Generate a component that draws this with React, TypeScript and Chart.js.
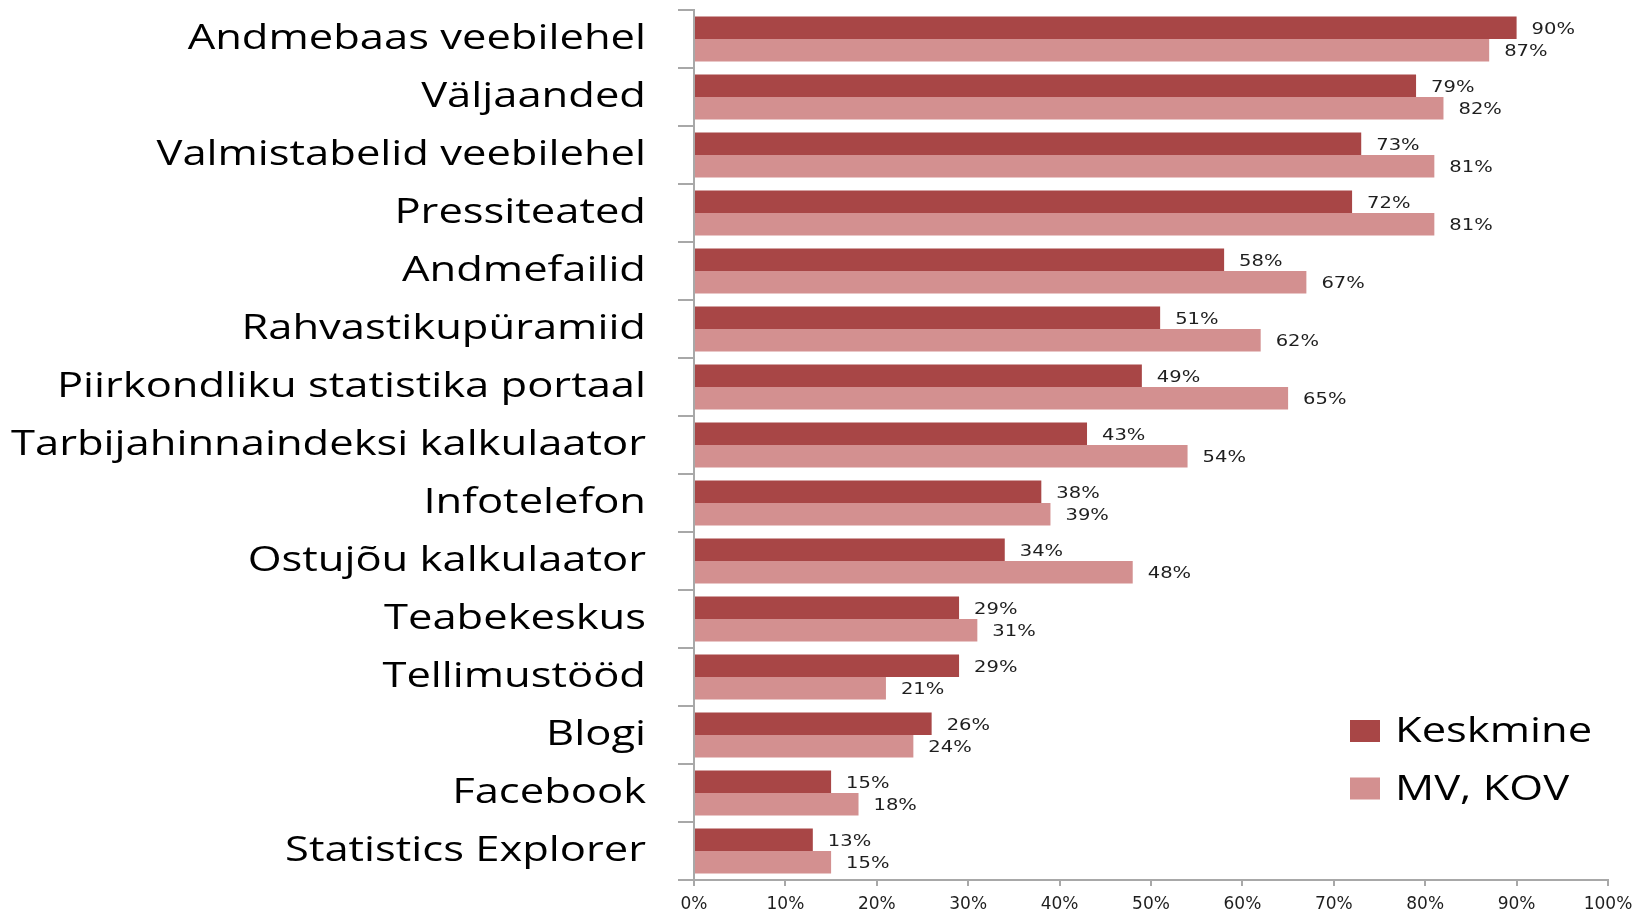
import React, { useEffect, useRef } from "react";
import { Chart, registerables } from "chart.js";

Chart.register(...registerables);

const categories = [
  "Andmebaas veebilehel",
  "Väljaanded",
  "Valmistabelid veebilehel",
  "Pressiteated",
  "Andmefailid",
  "Rahvastikupüramiid",
  "Piirkondliku statistika portaal",
  "Tarbijahinnaindeksi kalkulaator",
  "Infotelefon",
  "Ostujõu kalkulaator",
  "Teabekeskus",
  "Tellimustööd",
  "Blogi",
  "Facebook",
  "Statistics Explorer",
];

const keskmine = [90, 79, 73, 72, 58, 51, 49, 43, 38, 34, 29, 29, 26, 15, 13];
const mvKov = [87, 82, 81, 81, 67, 62, 65, 54, 39, 48, 31, 21, 24, 18, 15];

const seriesNames = ["Keskmine", "MV, KOV"];
const seriesColors = ["#A84646", "#D39090"];

const xTicks = [0, 10, 20, 30, 40, 50, 60, 70, 80, 90, 100];

const AXIS_COLOR = "#A8A8A8";
const LABEL_FONT = '34px "Open Sans"';
const STRETCH = 1.28;
const VALUE_FONT = '16px "DejaVu Sans"';
const VALUE_STRETCH = 1.22;

const textPlugin = {
  id: "customText",
  afterDatasetsDraw(chart: any) {
    const ctx = chart.ctx;
    chart.data.datasets.forEach((ds: any, di: number) => {
      const meta = chart.getDatasetMeta(di);
      meta.data.forEach((bar: any, i: number) => {
        ctx.save();
        ctx.font = VALUE_FONT;
        ctx.fillStyle = "#1e1e1e";
        ctx.textAlign = "left";
        ctx.textBaseline = "middle";
        ctx.translate(bar.x + 15, bar.y + 2);
        ctx.scale(VALUE_STRETCH, 1);
        ctx.fillText(ds.data[i] + "%", 0, 0);
        ctx.restore();
      });
    });
  },
  afterDraw(chart: any) {
    const ctx = chart.ctx;
    const yScale = chart.scales.y;
    const labels = chart.data.labels as string[];
    const right = yScale.right - 48;
    labels.forEach((lab, i) => {
      const py = yScale.getPixelForValue(i);
      ctx.save();
      ctx.font = LABEL_FONT;
      ctx.fillStyle = "#000";
      ctx.textAlign = "right";
      ctx.textBaseline = "alphabetic";
      ctx.translate(right, py + 10);
      ctx.scale(STRETCH, 1);
      ctx.fillText(lab, 0, 0);
      ctx.restore();
    });
    chart.data.datasets.forEach((ds: any, di: number) => {
      const bx = 1350;
      const by = 720 + di * 57.5;
      ctx.save();
      ctx.fillStyle = ds.backgroundColor;
      ctx.fillRect(bx, by, 30, 22);
      ctx.font = LABEL_FONT;
      ctx.fillStyle = "#000";
      ctx.textAlign = "left";
      ctx.textBaseline = "alphabetic";
      ctx.translate(bx + 45, by + 22);
      ctx.scale(STRETCH, 1);
      ctx.fillText(ds.label, 0, 0);
      ctx.restore();
    });
  },
};

export default function App() {
  const ref = useRef<HTMLCanvasElement | null>(null);

  useEffect(() => {
    if (!ref.current) return;
    const chart = new Chart(ref.current, {
      type: "bar",
      data: {
        labels: categories,
        datasets: [
          {
            label: seriesNames[0],
            data: keskmine,
            backgroundColor: seriesColors[0],
            borderWidth: 0,
            categoryPercentage: 0.78,
            barPercentage: 1,
          },
          {
            label: seriesNames[1],
            data: mvKov,
            backgroundColor: seriesColors[1],
            borderWidth: 0,
            categoryPercentage: 0.78,
            barPercentage: 1,
          },
        ],
      },
      options: {
        indexAxis: "y",
        animation: false,
        responsive: true,
        maintainAspectRatio: false,
        layout: { padding: { top: 10, right: 30, bottom: 0, left: 0 } },
        plugins: {
          legend: { display: false },
          tooltip: { enabled: false },
        },
        scales: {
          x: {
            type: "linear",
            min: 0,
            max: 100,
            afterFit(scale: any) {
              scale.height = 35;
              scale.paddingLeft = 0;
              scale.paddingRight = 0;
            },
            afterBuildTicks(scale: any) {
              scale.ticks = xTicks.map((v) => ({ value: v }));
            },
            ticks: {
              stepSize: 10,
              padding: 8,
              color: "#1e1e1e",
              font: { family: "DejaVu Sans", size: 17 },
              callback: (v: any) => v + "%",
            },
            grid: {
              drawOnChartArea: false,
              drawTicks: true,
              tickLength: 6,
              color: AXIS_COLOR,
              lineWidth: 2,
            },
            border: { display: true, color: AXIS_COLOR, width: 2 },
          },
          y: {
            type: "category",
            afterFit(scale: any) {
              scale.width = 694;
            },
            ticks: { display: false },
            grid: {
              offset: true,
              drawOnChartArea: false,
              drawTicks: true,
              tickLength: 16,
              color: AXIS_COLOR,
              lineWidth: 2,
            },
            border: { display: true, color: AXIS_COLOR, width: 2 },
          },
        },
      },
      plugins: [textPlugin],
    });
    return () => chart.destroy();
  }, []);

  return (
    <div
      style={{
        position: "absolute",
        left: 0,
        top: 0,
        width: 1638,
        height: 915,
        background: "#fff",
      }}
    >
      <canvas ref={ref} />
    </div>
  );
}
